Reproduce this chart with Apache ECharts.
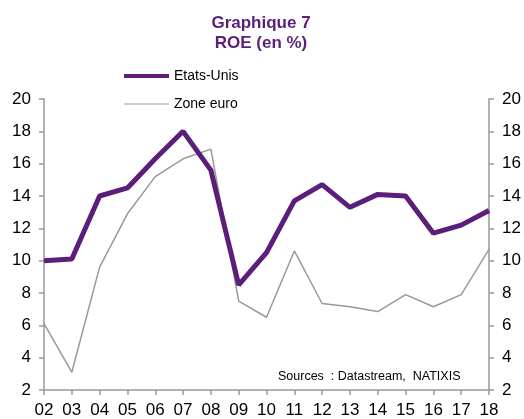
<!DOCTYPE html>
<html lang="fr">
<head>
    <meta charset="UTF-8">
    <title>Graphique 7</title>
    <script src="https://cdn.jsdelivr.net/npm/echarts@6/dist/echarts.min.js"></script>
    <style>
        body { margin: 0; background: #fff; }
        #chart { width: 524px; height: 419px; }
    </style>
</head>
<body>
    <div id="chart"></div>
    <script>
        var years = ['02', '03', '04', '05', '06', '07', '08', '09', '10', '11', '12', '13', '14', '15', '16', '17', '18']
        var etatsUnis = [10.0, 10.1, 14.0, 14.5, 16.3, 18.0, 15.6, 8.5, 10.5, 13.7, 14.7, 13.3, 14.1, 14.0, 11.7, 12.2, 13.1]
        var zoneEuro = [6.1, 3.1, 9.6, 12.9, 15.2, 16.3, 16.9, 7.5, 6.5, 10.6, 7.35, 7.15, 6.85, 7.9, 7.15, 7.9, 10.7]

        var purple = '#5B1E7B'
        var font = '"Liberation Sans", Arial, sans-serif'

        var chart = echarts.init(document.getElementById('chart'))

        // axe Y commun (gauche et droite identiques)
        function yAxis(pos) {
            return {
                type: 'value',
                position: pos,
                min: 2,
                max: 20,
                interval: 2,
                splitLine: { show: false },
                axisLine: { show: true, lineStyle: { color: '#999', width: 1.5 } },
                axisTick: { show: true, length: 5, lineStyle: { color: '#999', width: 1.5 } },
                axisLabel: { color: '#000', fontSize: 17, fontFamily: font, margin: 13 }
            }
        }

        var option = {
            animation: false,
            title: {
                text: 'Graphique 7\nROE (en %)',
                left: 256,
                textAlign: 'center',
                top: 8,
                textStyle: { color: purple, fontSize: 17, fontWeight: 'bold', fontFamily: font, lineHeight: 20 }
            },
            legend: {
                orient: 'vertical',
                left: 119,
                top: 64,
                itemGap: 14,
                itemWidth: 45,
                itemHeight: 16,
                textStyle: { color: '#000', fontSize: 14, fontFamily: font },
                data: [
                    { name: 'Etats-Unis', icon: 'path://M0,0 L45,0 L45,4 L0,4 Z', itemStyle: { color: purple } },
                    { name: 'Zone euro', icon: 'path://M0,0 L45,0 L45,1 L0,1 Z', itemStyle: { color: '#999' } }
                ]
            },
            grid: { left: 44, right: 35, top: 99, bottom: 28 },
            xAxis: {
                type: 'category',
                data: years,
                boundaryGap: false,
                axisLine: { lineStyle: { color: '#999', width: 1.5 } },
                axisTick: { show: true, length: 5, lineStyle: { color: '#999', width: 1.5 } },
                axisLabel: { color: '#000', fontSize: 17, fontFamily: font, margin: 12, interval: 0 }
            },
            yAxis: [yAxis('left'), yAxis('right')],
            graphic: [{
                type: 'text',
                left: 278,
                top: 370,
                style: { text: 'Sources  : Datastream,  NATIXIS', fill: '#000', font: '12.5px ' + font }
            }],
            series: [{
                name: 'Zone euro',
                type: 'line',
                data: zoneEuro,
                symbol: 'none',
                lineStyle: { color: '#999', width: 1.5 },
                itemStyle: { color: '#999' }
            }, {
                name: 'Etats-Unis',
                type: 'line',
                data: etatsUnis,
                symbol: 'none',
                lineStyle: { color: purple, width: 5 },
                itemStyle: { color: purple }
            }]
        }
        chart.setOption(option)
    </script>
</body>
</html>
